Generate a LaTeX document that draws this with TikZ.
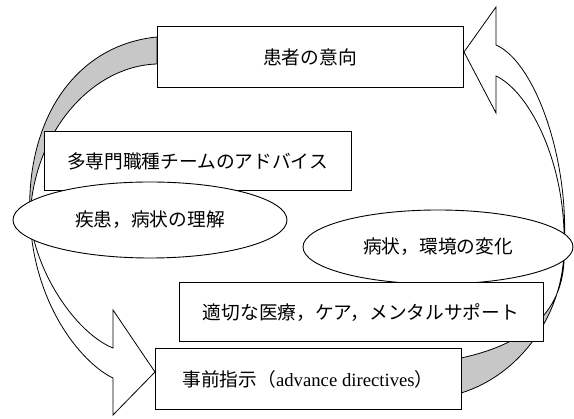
\documentclass[tikz,border=0pt]{standalone}
\usepackage{fontspec}
\setmainfont{Liberation Serif}
\newfontfamily\jp{Noto Sans CJK JP}
\usetikzlibrary{shapes.geometric}
\begin{document}
\begin{tikzpicture}[x=1pt,y=-1pt,
  txt/.style={font=\jp\fontsize{18.7}{22}\selectfont},
  box/.style={txt,draw,line width=1pt,fill=white,rectangle,inner sep=0pt},
  oval/.style={txt,draw,line width=0.9pt,fill=white,ellipse,inner sep=0pt},
  ribbon/.style={draw,line width=0.8pt,line join=miter},
  front/.style={ribbon,fill=white},
  back/.style={ribbon,fill=black!22}]
\useasboundingbox (0,0) rectangle (574,419);
\fill[white] (0,0) rectangle (574,419);

% twist points of the two ribbons
\coordinate (tl) at (30,220);
\coordinate (tr) at (564,250);

% upper-left ribbon (back side, shaded)
\path[back] (157,37) .. controls (75,45) and (25,120) .. (tl)
  .. controls (32,135) and (90,66) .. (157,64) -- cycle;
% lower-left ribbon with arrow head
\path[front] (tl) .. controls (38,280) and (80,335) .. (113,348)
  -- (113,310) -- (155,372) -- (113,415) -- (113,378)
  .. controls (85,365) and (35,310) .. (tl) -- cycle;
% lower-right ribbon (back side, shaded)
\path[back] (tr) .. controls (563,315) and (520,375) .. (461,393)
  -- (461,358) .. controls (545,340) and (566,295) .. (tr) -- cycle;
% upper-right ribbon with arrow head
\path[front] (464,52) -- (496,7) -- (496,45)
  .. controls (535,62) and (570,160) .. (tr)
  .. controls (567,165) and (530,92) .. (496,76)
  -- (496,113) -- cycle;

\node[box,minimum width=306pt,minimum height=61pt] (p) at (310,57.5) {患者の意向};
\node[box,minimum width=307pt,minimum height=59pt] (m) at (197.5,161.5) {多専門職種チームのアドバイス};
\node[oval,minimum width=274pt,minimum height=76pt] (e1) at (150,220) {疾患，病状の理解};
\node[oval,minimum width=270pt,minimum height=74pt] (e2) at (438,247) {病状，環境の変化};
\node[box,minimum width=364pt,minimum height=59pt] (c) at (361,312.5) {適切な医療，ケア，メンタルサポート};
\node[box,minimum width=306pt,minimum height=61pt] (d) at (308,379.5) {事前指示（{\rmfamily advance directives}）};
\end{tikzpicture}
\end{document}
